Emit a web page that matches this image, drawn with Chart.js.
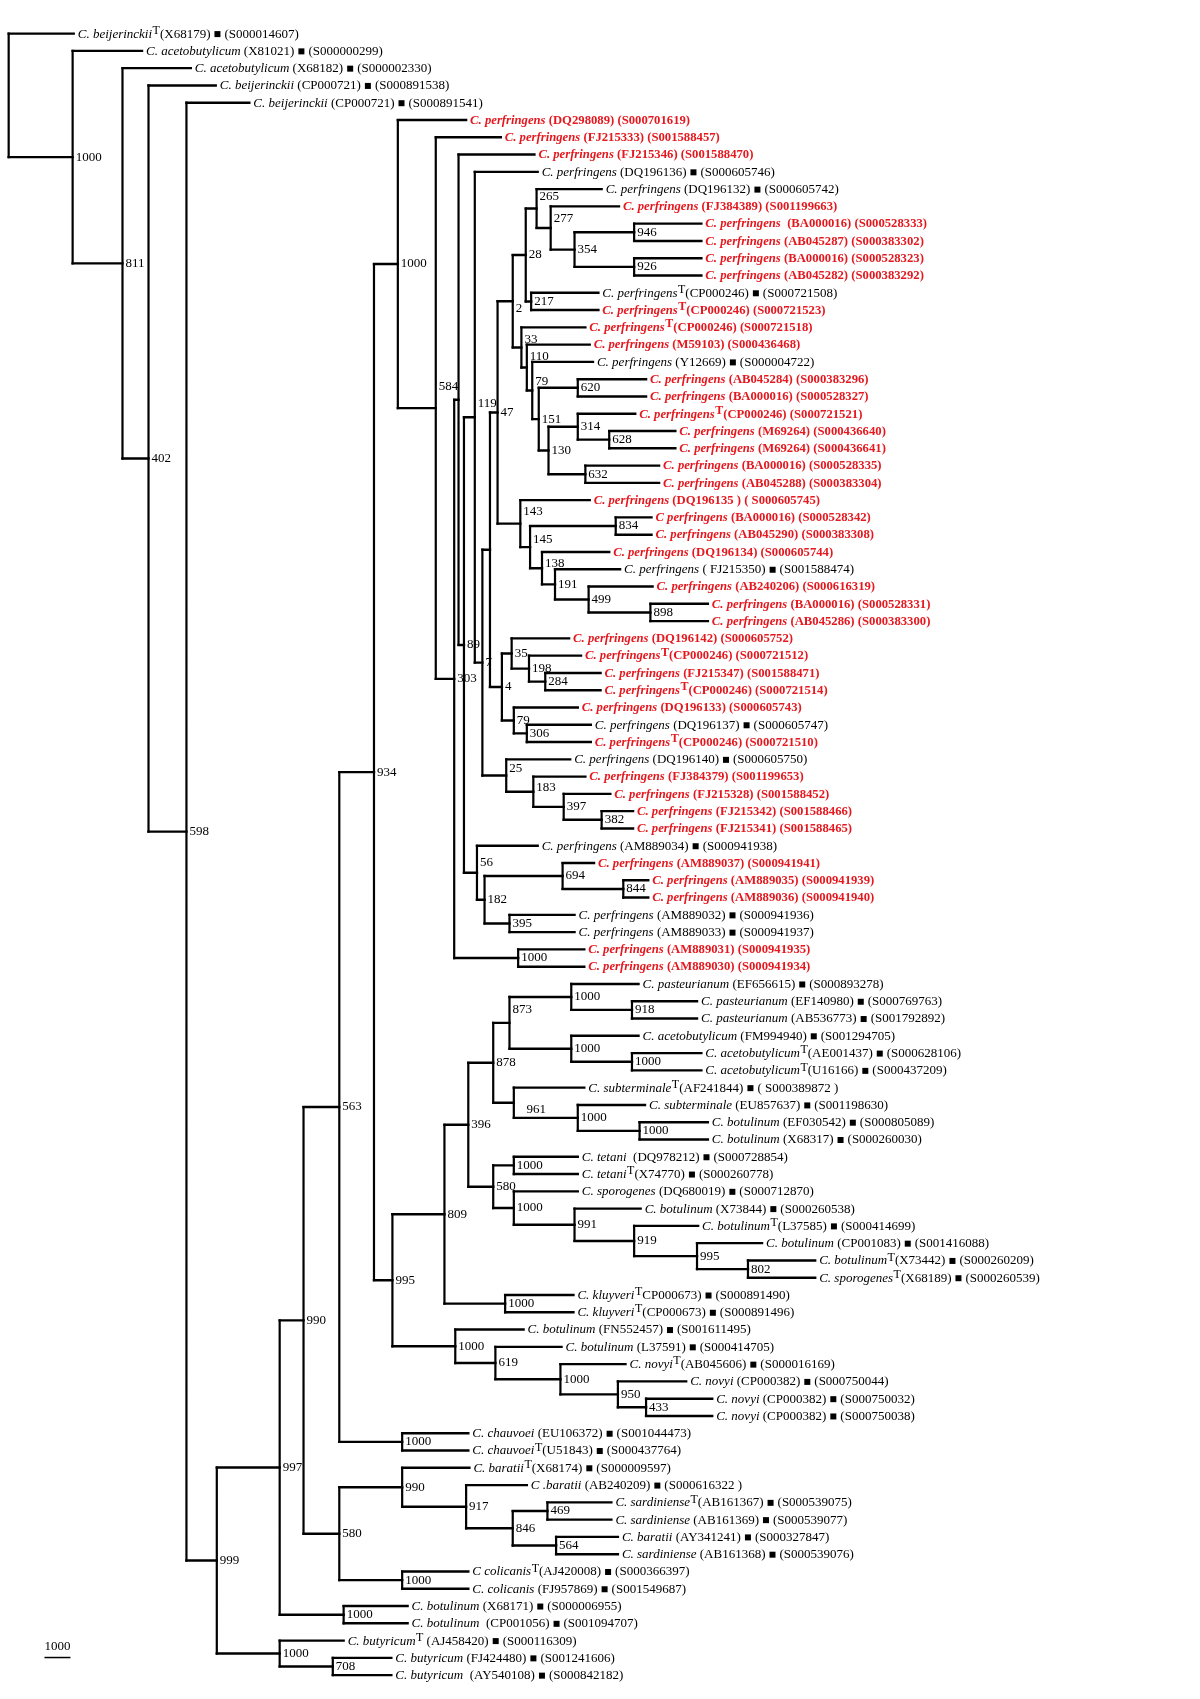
<!DOCTYPE html>
<html><head><meta charset="utf-8">
<script src="https://cdn.jsdelivr.net/npm/chart.js@4.4.0/dist/chart.umd.min.js"></script>
<style>html,body{margin:0;padding:0;background:#fff}canvas{display:block}</style>
</head><body>
<canvas id="c" width="1200" height="1699" style="width:1200px;height:1699px"></canvas>
<script>
// ---------------- DATA ----------------
const species = [
"C. beijerinckii","C. acetobutylicum","C. acetobutylicum","C. beijerinckii","C. beijerinckii",
"C. perfringens","C. perfringens","C. perfringens","C. perfringens","C. perfringens",
"C. perfringens","C. perfringens","C. perfringens","C. perfringens","C. perfringens",
"C. perfringens","C. perfringens","C. perfringens","C. perfringens","C. perfringens",
"C. perfringens","C. perfringens","C. perfringens","C. perfringens","C. perfringens",
"C. perfringens","C. perfringens","C. perfringens","C perfringens","C. perfringens",
"C. perfringens","C. perfringens","C. perfringens","C. perfringens","C. perfringens",
"C. perfringens","C. perfringens","C. perfringens","C. perfringens","C. perfringens",
"C. perfringens","C. perfringens","C. perfringens","C. perfringens","C. perfringens",
"C. perfringens","C. perfringens","C. perfringens","C. perfringens","C. perfringens",
"C. perfringens","C. perfringens","C. perfringens","C. perfringens","C. perfringens",
"C. pasteurianum","C. pasteurianum","C. pasteurianum","C. acetobutylicum","C. acetobutylicum",
"C. acetobutylicum","C. subterminale","C. subterminale","C. botulinum","C. botulinum",
"C. tetani","C. tetani","C. sporogenes","C. botulinum","C. botulinum",
"C. botulinum","C. botulinum","C. sporogenes","C. kluyveri","C. kluyveri",
"C. botulinum","C. botulinum","C. novyi","C. novyi","C. novyi",
"C. novyi","C. chauvoei","C. chauvoei","C. baratii","C .baratii",
"C. sardiniense","C. sardiniense","C. baratii","C. sardiniense","C colicanis",
"C. colicanis","C. botulinum","C. botulinum","C. butyricum","C. butyricum","C. butyricum"];

const accessions = [
"(X68179)","(X81021)","(X68182)","(CP000721)","(CP000721)",
"(DQ298089)","(FJ215333)","(FJ215346)","(DQ196136)","(DQ196132)",
"(FJ384389)"," (BA000016)","(AB045287)","(BA000016)","(AB045282)",
"(CP000246)","(CP000246)","(CP000246)","(M59103)","(Y12669)",
"(AB045284)","(BA000016)","(CP000246)","(M69264)","(M69264)",
"(BA000016)","(AB045288)","(DQ196135 )","(BA000016)","(AB045290)",
"(DQ196134)","( FJ215350)","(AB240206)","(BA000016)","(AB045286)",
"(DQ196142)","(CP000246)","(FJ215347)","(CP000246)","(DQ196133)",
"(DQ196137)","(CP000246)","(DQ196140)","(FJ384379)","(FJ215328)",
"(FJ215342)","(FJ215341)","(AM889034)","(AM889037)","(AM889035)",
"(AM889036)","(AM889032)","(AM889033)","(AM889031)","(AM889030)",
"(EF656615)","(EF140980)","(AB536773)","(FM994940)","(AE001437)",
"(U16166)","(AF241844)","(EU857637)","(EF030542)","(X68317)",
" (DQ978212)","(X74770)","(DQ680019)","(X73844)","(L37585)",
"(CP001083)","(X73442)","(X68189)","CP000673)","(CP000673)",
"(FN552457)","(L37591)","(AB045606)","(CP000382)","(CP000382)",
"(CP000382)","(EU106372)","(U51843)","(X68174)","(AB240209)",
"(AB161367)","(AB161369)","(AY341241)","(AB161368)","(AJ420008)",
"(FJ957869)","(X68171)"," (CP001056)"," (AJ458420)","(FJ424480)"," (AY540108)"];

const seqIds = [
"(S000014607)","(S000000299)","(S000002330)","(S000891538)","(S000891541)",
"(S000701619)","(S001588457)","(S001588470)","(S000605746)","(S000605742)",
"(S001199663)","(S000528333)","(S000383302)","(S000528323)","(S000383292)",
"(S000721508)","(S000721523)","(S000721518)","(S000436468)","(S000004722)",
"(S000383296)","(S000528327)","(S000721521)","(S000436640)","(S000436641)",
"(S000528335)","(S000383304)","( S000605745)","(S000528342)","(S000383308)",
"(S000605744)","(S001588474)","(S000616319)","(S000528331)","(S000383300)",
"(S000605752)","(S000721512)","(S001588471)","(S000721514)","(S000605743)",
"(S000605747)","(S000721510)","(S000605750)","(S001199653)","(S001588452)",
"(S001588466)","(S001588465)","(S000941938)","(S000941941)","(S000941939)",
"(S000941940)","(S000941936)","(S000941937)","(S000941935)","(S000941934)",
"(S000893278)","(S000769763)","(S001792892)","(S001294705)","(S000628106)",
"(S000437209)","( S000389872 )","(S001198630)","(S000805089)","(S000260030)",
"(S000728854)","(S000260778)","(S000712870)","(S000260538)","(S000414699)",
"(S001416088)","(S000260209)","(S000260539)","(S000891490)","(S000891496)",
"(S001611495)","(S000414705)","(S000016169)","(S000750044)","(S000750032)",
"(S000750038)","(S001044473)","(S000437764)","(S000009597)","(S000616322 )",
"(S000539075)","(S000539077)","(S000327847)","(S000539076)","(S000366397)",
"(S001549687)","(S000006955)","(S001094707)","(S000116309)","(S001241606)","(S000842182)"];

// leaves that are type strains (superscript T)
const typeStrains = [1,16,17,18,23,37,39,42,60,61,62,67,70,72,73,74,75,78,83,84,86,90,94];
// leaves highlighted in red
const highlighted = [6,7,8,11,12,13,14,15,17,18,19,21,22,23,24,25,26,27,28,29,30,31,33,34,35,
  36,37,38,39,40,42,44,45,46,47,49,50,51,54,55];

// tip depth of each leaf (distance from root)
const tipDepth = [
60,123,168,191,222, 422,454,485,488,547, 563,639,639,639,639, 544,544,532,536,539,
588,588,578,615,615, 600,600,536,593,593, 554,564,594,645,645, 517,528,546,546,525,
537,537,518,532,555, 576,576,488,540,590, 590,522,522,531,531, 581,635,635,581,639,
639,531,587,645,645, 525,525,525,583,636, 695,744,744,521,521, 475,510,569,625,649,
649,424,424,425,478, 556,556,562,562,424, 424,368,368,309,353, 353];

// internal nodes: id, children (leaf numbers or node ids), depth, bootstrap support
const nodeIds = ["root","A","B","C","D","E","F","G","g708","I","H","J","K","ch","co","ba","b917","b846","b469","b564",
 "L","c995","c1000","c619","nv","nv950","nv433","c809","kl","c396","c878","c873","pa","pa918","ac","ac2","c961","sb","sb2",
 "c580","te","sp","sp991","sp919","sp995","sp802",
 "P","Q","R","V","X","N89","W","N7","Ax","p47","p2","p28","p265","p277","p354","p946","p926","p217","p33","p110","p79a",
 "p151","p620","p130","p314","p628","p632","p143","p145","p834","p138","p191","p499","p898","p4","p35","p198","p284",
 "p79b","p306","p25","p183","p397","p382","p56","p182","p694","p844","p395"];
const nodeChildren = [[1,"A"],[2,"B"],[3,"C"],[4,"D"],[5,"E"],["F","G"],["H","I"],[94,"g708"],[95,96],[92,93],["J","K"],["L","ch"],["ba","co"],[82,83],[90,91],[84,"b917"],[85,"b846"],["b469","b564"],[86,87],[88,89],
 ["P","c995"],["c809","c1000"],[76,"c619"],[77,"nv"],[78,"nv950"],[79,"nv433"],[80,81],["c396","kl"],[74,75],["c878","c580"],["c873","c961"],["pa","ac"],[56,"pa918"],[57,58],[59,"ac2"],[60,61],[62,"sb"],[63,"sb2"],[64,65],
 ["te","sp"],[66,67],[68,"sp991"],[69,"sp919"],[70,"sp995"],[71,"sp802"],[72,73],
 [6,"Q"],[7,"R"],["X","V"],[54,55],[8,"N89"],["W","p56"],[9,"N7"],["Ax","p25"],["p47","p4"],["p2","p143"],["p28","p33"],["p265","p217"],[10,"p277"],[11,"p354"],["p946","p926"],[12,13],[14,15],[16,17],[18,"p110"],[19,"p79a"],[20,"p151"],
 ["p620","p130"],[21,22],["p314","p632"],[23,"p628"],[24,25],[26,27],[28,"p145"],["p834","p138"],[29,30],[31,"p191"],[32,"p499"],[33,"p898"],[34,35],["p35","p79b"],[36,"p198"],[37,"p284"],[38,39],
 [40,"p306"],[41,42],[43,"p183"],[44,"p397"],[45,"p382"],[46,47],[48,"p182"],["p694","p395"],[49,"p844"],[50,51],[52,53]];
const nodeDepth = [0,59,105,129,164,192,250,250,299,309,272,305,305,363,363,363,422,465,497,505,
 337,354,412,449,509,562,588,402,458,424,447,462,519,575,519,575,466,525,582,
 447,466,466,522,577,635,682,
 359,394,411,470,415,420,430,437,444,451,465,477,487,500,522,577,577,482,473,478,483,
 489,525,498,525,554,532,472,481,560,492,504,535,592,455,464,480,495,
 466,478,459,484,512,547,432,439,511,567,462];
const nodeSupport = ["","1000","811","402","598","999","997","1000","708","1000","990","563","580","1000","1000","990","917","846","469","564",
 "934","995","1000","619","1000","950","433","809","1000","396","878","873","1000","918","1000","1000","961","1000","1000",
 "580","1000","1000","991","919","995","802",
 "1000","584","303","1000","","89","119","7","","47","2","28","265","277","354","946","926","217","33","110","79",
 "151","620","130","314","628","632","143","145","834","138","191","499","898","4","35","198","284",
 "79","306","25","183","397","382","56","182","694","844","395"];

const scaleBar = {label:"1000", length:24};

// ---------------- LAYOUT / STYLE ----------------
const FONT = '"Liberation Serif","Times New Roman",serif';
const RED = 'rgb(228,24,30)';
// small manual offsets of support labels (px), as in the original figure
const labelNudge = {Q:[0,-20],c873:[0,-12],p265:[0,-11],p277:[0,-9],p33:[0,-7],p110:[0,-10],p79a:[0,-8],
  p143:[0,-11],p145:[0,-7],p2:[0,7],p138:[0,-4],p183:[0,-4],p25:[0,-6],W:[0,-13],p56:[0,-9],c961:[9,6]};

const nodeMap = {};
nodeIds.forEach((id,i)=>{nodeMap[id]={id,children:nodeChildren[i],depth:nodeDepth[i],support:nodeSupport[i]};});
function yOf(ref){
  if(typeof ref==='number') return ref;
  const n=nodeMap[ref];
  if(n.y===undefined){const a=yOf(n.children[0]), b=yOf(n.children[n.children.length-1]); n.y=(a+b)/2;}
  return n.y;
}
function xOf(ref){ return typeof ref==='number' ? tipDepth[ref-1] : nodeMap[ref].depth; }

const hSeg=[], vSeg=[];
nodeIds.forEach(id=>{
  const n=nodeMap[id];
  const ys=n.children.map(yOf);
  vSeg.push({x:n.depth,y:ys[0]},{x:n.depth,y:ys[ys.length-1]},{x:null,y:null});
  n.children.forEach((c,k)=>{hSeg.push({x:n.depth,y:ys[k]},{x:xOf(c),y:ys[k]},{x:null,y:null});});
  yOf(id);
});
const barStart = 33, barRow = 94.98;
const barData=[{x:barStart,y:barRow},{x:barStart+scaleBar.length,y:barRow}];

const redSet=new Set(highlighted), typeSet=new Set(typeStrains);

const textPlugin={
  id:'treeText',
  afterDatasetsDraw(chart){
    const ctx=chart.ctx, sx=chart.scales.x, sy=chart.scales.y;
    ctx.save();
    ctx.textBaseline='middle'; ctx.textAlign='left';
    for(let i=1;i<=species.length;i++){
      const red=redSet.has(i), T=typeSet.has(i);
      const w=red?'bold ':'';
      const fs=red?12.7:13;
      let px=sx.getPixelForValue(tipDepth[i-1])+4;
      const py=sy.getPixelForValue(i)+0.5;
      ctx.fillStyle=red?RED:'#000';
      ctx.font='italic '+w+fs+'px '+FONT;
      ctx.fillText(species[i-1],px,py); px+=ctx.measureText(species[i-1]).width;
      if(T){ctx.font=w+'12px '+FONT; ctx.fillText('T',px+0.5,py-3.5); px+=ctx.measureText('T').width+0.5;}
      ctx.font=w+fs+'px '+FONT;
      const acc=(T?'':' ')+accessions[i-1];
      ctx.fillText(acc,px,py); px+=ctx.measureText(acc).width;
      if(!red){px+=4; ctx.fillStyle='#000'; ctx.fillRect(px,py-3,6,6); px+=10;}
      else {px+=ctx.measureText(' ').width;}
      ctx.fillText(seqIds[i-1],px,py);
    }
    ctx.fillStyle='#000';
    ctx.font='13px '+FONT;
    nodeIds.forEach(id=>{
      const n=nodeMap[id]; if(!n.support) return;
      const nd=labelNudge[id]||[0,0];
      const px=sx.getPixelForValue(n.depth)+3+nd[0]*1.084;
      const py=sy.getPixelForValue(n.y)+nd[1]*1.084;
      ctx.fillText(n.support,px,py);
    });
    ctx.textAlign='center';
    ctx.fillText(scaleBar.label, sx.getPixelForValue(barStart+scaleBar.length/2), sy.getPixelForValue(barRow)-11);
    ctx.restore();
  }
};

new Chart(document.getElementById('c'),{
  type:'scatter',
  data:{datasets:[
    {data:hSeg,showLine:true,borderColor:'#000',borderWidth:2.4,pointRadius:0,spanGaps:false,borderCapStyle:'square'},
    {data:vSeg,showLine:true,borderColor:'#000',borderWidth:2.2,pointRadius:0,spanGaps:false,borderCapStyle:'square'},
    {data:barData,showLine:true,borderColor:'#000',borderWidth:1.5,pointRadius:0}
  ]},
  options:{
    responsive:false, animation:false, devicePixelRatio:1,
    layout:{padding:0},
    plugins:{legend:{display:false},tooltip:{enabled:false}},
    scales:{
      x:{type:'linear',min:-8,max:1099,display:false},
      y:{type:'linear',min:-0.944,max:97.38,reverse:true,display:false}
    }
  },
  plugins:[textPlugin]
});
</script>
</body></html>
